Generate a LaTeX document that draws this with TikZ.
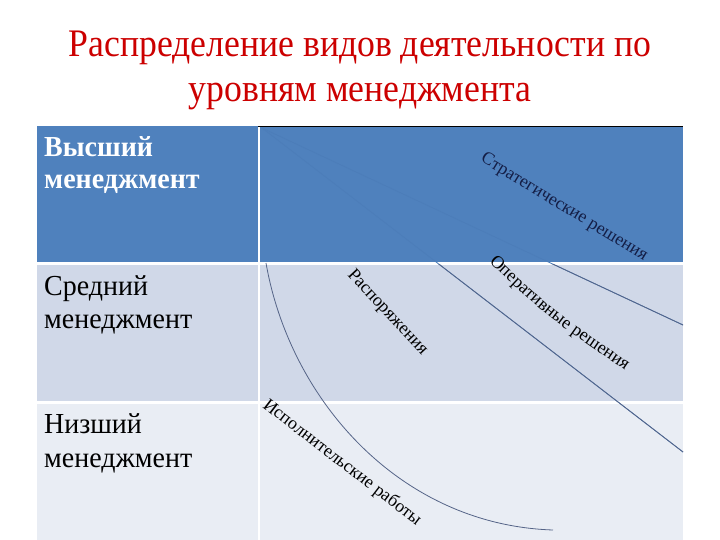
\documentclass[tikz,border=0pt]{standalone}
\usepackage{fontspec}
\usepackage{graphicx}
\IfFontExistsTF{LiberationSerif-Regular.ttf}
  {\setmainfont{LiberationSerif-Regular.ttf}[BoldFont=LiberationSerif-Bold.ttf]}
  {\setmainfont{Liberation Serif}}
\usetikzlibrary{decorations.text}
\definecolor{topblue}{RGB}{79,129,189}
\definecolor{midband}{RGB}{208,216,232}
\definecolor{lowband}{RGB}{233,237,244}
\definecolor{titlered}{RGB}{204,0,0}
\definecolor{linecol}{RGB}{85,100,135}
\definecolor{faintline}{RGB}{76,125,185}
\definecolor{navytext}{RGB}{20,30,70}
\newcommand{\titlesq}[1]{\scalebox{0.915}[1]{#1}}
\newcommand{\lvlsq}[1]{\scalebox{0.965}[1]{#1}}
\begin{document}
\begin{tikzpicture}[x=1pt,y=-1pt,
  titletext/.style={inner sep=0pt,text=titlered,font=\fontsize{39}{40}\selectfont},
  hitext/.style={inner sep=0pt,anchor=base west,text=white,font=\fontsize{29}{32}\selectfont\bfseries},
  lvltext/.style={inner sep=0pt,anchor=base west,text=black,font=\fontsize{29}{32}\selectfont},
  divline/.style={draw=linecol,line width=0.8pt},
  faint/.style={draw=faintline,line width=0.8pt}
]
\useasboundingbox[fill=white] (0,0) rectangle (720,540);
% bands
\fill[topblue] (37,126) rectangle (258,262);
\fill[topblue] (260,126) rectangle (683,262);
\fill[midband] (37,265) rectangle (258,401);
\fill[midband] (260,265) rectangle (683,401);
\fill[lowband] (37,404) rectangle (258,540);
\fill[lowband] (260,404) rectangle (683,540);
\draw[black,line width=0.9pt] (258,126.5) -- (683,126.5);
% title
\node[titletext,anchor=base] (title1) at (360,57) {\titlesq{Распределение видов деятельности по}};
\node[titletext,anchor=base] (title2) at (360,102) {\titlesq{уровням менеджмента}};
% level labels
\node[hitext] (hi1) at (44,157) {\lvlsq{Высший}};
\node[hitext] (hi2) at (44,189) {\lvlsq{менеджмент}};
\node[lvltext] (mid1) at (44,295) {\lvlsq{Средний}};
\node[lvltext] (mid2) at (44,328) {\lvlsq{менеджмент}};
\node[lvltext] (lo1) at (44,433) {\lvlsq{Низший}};
\node[lvltext] (lo2) at (44,467) {\lvlsq{менеджмент}};
% dividing lines
\coordinate (corner) at (262,128);
\coordinate (bEnd) at (683,452);
\coordinate (cEnd) at (683,325);
\coordinate (aStart) at (266,263);
\coordinate (aEnd) at (553,530);
\draw[faint] (corner) -- (bEnd);
\draw[faint] (corner) -- (cEnd);
\begin{scope}
  \clip (258,264) rectangle (690,540);
  \draw[divline] (corner) -- (bEnd);
  \draw[divline] (corner) -- (cEnd);
\end{scope}
\draw[divline] (aStart) .. controls (290,400) and (400,525) .. (aEnd);
% curved labels
\coordinate (s1) at (480,161);
\coordinate (s2) at (660,271);
\path[decorate,decoration={text along path,text align=left,
  text={|\fontsize{18}{18}\selectfont\color{navytext}|Стратегические решения}}] (s1) -- (s2);
\coordinate (o1) at (489,262);
\coordinate (o2) at (640,380);
\path[decorate,decoration={text along path,text align=left,
  text={|\fontsize{18}{18}\selectfont|Оперативные решения}}] (o1) .. controls (548,318) .. (o2);
\coordinate (r1) at (347,275);
\coordinate (r2) at (440,375);
\path[decorate,decoration={text along path,text align=left,
  text={|\fontsize{18}{18}\selectfont|Распоряжения}}] (r1) -- (r2);
\coordinate (i1) at (262,407);
\coordinate (i2) at (435,540);
\path[decorate,decoration={text along path,text align=left,
  text={|\fontsize{18}{18}\selectfont|Исполнительские работы}}] (i1) -- (i2);
\end{tikzpicture}
\end{document}
